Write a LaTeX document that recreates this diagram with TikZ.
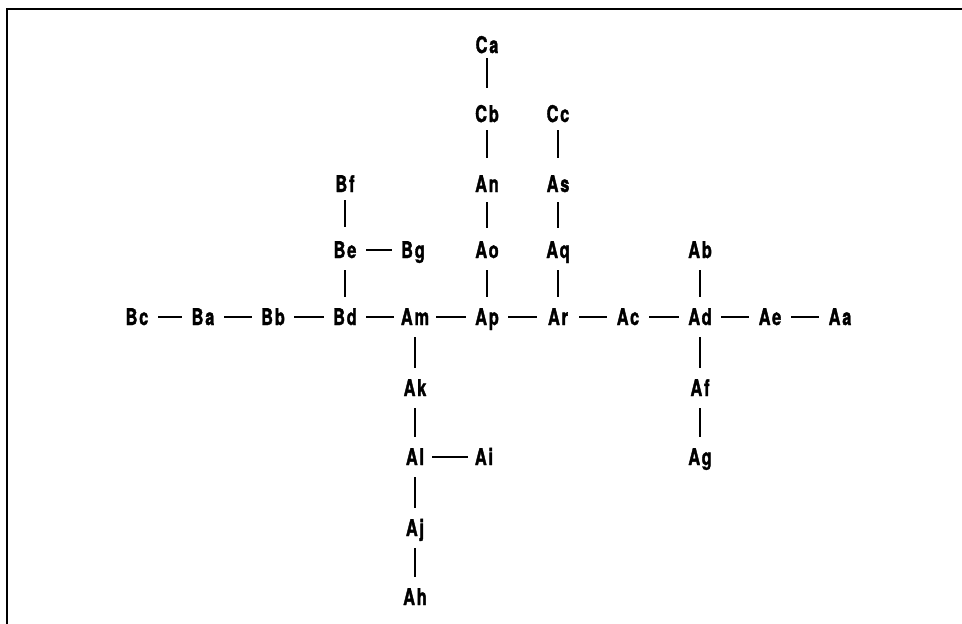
\documentclass[tikz,border=0pt]{standalone}
\usepackage{fontspec}
\newfontfamily\lblfont{TeX Gyre Heros}[FakeStretch=0.71, LetterSpace=8, FakeBold=1.6]
\begin{document}
\begin{tikzpicture}[x=1pt,y=-1pt,
  lbl/.style={font=\lblfont\bfseries\fontsize{23}{23}\selectfont, inner sep=0pt, text height=16pt, text depth=0pt, anchor=center},
  con/.style={line width=1.7pt},
  hl/.style={con, shorten <=21pt, shorten >=21pt},
  vl/.style={con, shorten <=20pt, shorten >=20pt}]
\useasboundingbox (0,0) rectangle (962,624);
\draw[line width=1.8pt] (7,624) -- (7,9) -- (962,9);
% top chains
\node[lbl] (Ca) at (487,45) {Ca};
\node[lbl] (Cb) at (487,114) {Cb};
\node[lbl] (Cc) at (558,114) {Cc};
\node[lbl] (Bf) at (345,184) {Bf};
\node[lbl] (An) at (487,184) {An};
\node[lbl] (As) at (558,184) {As};
\node[lbl] (Be) at (345,250) {Be};
\node[lbl] (Bg) at (413,250) {Bg};
\node[lbl] (Ao) at (487,250) {Ao};
\node[lbl] (Aq) at (558,250) {Aq};
\node[lbl] (Ab) at (700,250) {Ab};
% main row
\node[lbl] (Bc) at (137,317) {Bc};
\node[lbl] (Ba) at (203,317) {Ba};
\node[lbl] (Bb) at (273,317) {Bb};
\node[lbl] (Bd) at (345,317) {Bd};
\node[lbl] (Am) at (415,317) {Am};
\node[lbl] (Ap) at (487,317) {Ap};
\node[lbl] (Ar) at (558,317) {Ar};
\node[lbl] (Ac) at (628,317) {Ac};
\node[lbl] (Ad) at (700,317) {Ad};
\node[lbl] (Ae) at (770,317) {Ae};
\node[lbl] (Aa) at (840,317) {Aa};
% lower chains
\node[lbl] (Ak) at (415,388) {Ak};
\node[lbl] (Af) at (700,388) {Af};
\node[lbl] (Al) at (415,457) {Al};
\node[lbl] (Ai) at (484,457) {Ai};
\node[lbl] (Ag) at (700,457) {Ag};
\node[lbl] (Aj) at (415,528) {Aj};
\node[lbl] (Ah) at (415,597) {Ah};
% vertical connectors
\draw[con, shorten <=13pt, shorten >=26pt] (Ca.center) -- (Cb.center);
\draw[con, shorten <=16pt, shorten >=26pt] (Cb.center) -- (An.center);
\draw[con, shorten <=16pt, shorten >=26pt] (Cc.center) -- (As.center);
\draw[con, shorten <=16pt, shorten >=23pt] (Bf.center) -- (Be.center);
\draw[con, shorten <=18pt, shorten >=22pt] (An.center) -- (Ao.center);
\draw[con, shorten <=18pt, shorten >=22pt] (As.center) -- (Aq.center);
\draw[vl] (Be.center) -- (Bd.center);
\draw[vl] (Ao.center) -- (Ap.center);
\draw[vl] (Aq.center) -- (Ar.center);
\draw[vl] (Ab.center) -- (Ad.center);
\draw[vl] (Am.center) -- (Ak.center);
\draw[vl] (Ak.center) -- (Al.center);
\draw[vl] (Al.center) -- (Aj.center);
\draw[vl] (Aj.center) -- (Ah.center);
\draw[vl] (Ad.center) -- (Af.center);
\draw[vl] (Af.center) -- (Ag.center);
% horizontal connectors
\draw[hl] (Bc.center) -- (Ba.center);
\draw[hl] (Ba.center) -- (Bb.center);
\draw[hl] (Bb.center) -- (Bd.center);
\draw[hl] (Bd.center) -- (Am.center);
\draw[hl] (Am.center) -- (Ap.center);
\draw[hl] (Ap.center) -- (Ar.center);
\draw[hl] (Ar.center) -- (Ac.center);
\draw[hl] (Ac.center) -- (Ad.center);
\draw[hl] (Ad.center) -- (Ae.center);
\draw[hl] (Ae.center) -- (Aa.center);
\draw[hl] (Be.center) -- (Bg.center);
\draw[con, shorten <=17pt, shorten >=16pt] (Al.center) -- (Ai.center);
\end{tikzpicture}
\end{document}
